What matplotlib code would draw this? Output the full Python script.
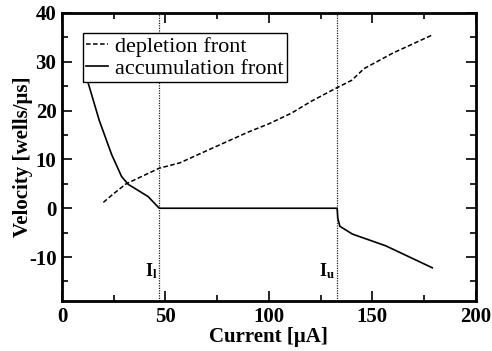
import matplotlib
matplotlib.use("Agg")
import matplotlib.pyplot as plt

plt.rcParams['font.family'] = ['Liberation Serif', 'DejaVu Serif']
plt.rcParams['mathtext.fontset'] = 'custom'
plt.rcParams['mathtext.rm'] = 'Liberation Serif'
plt.rcParams['mathtext.bf'] = 'Liberation Serif:bold'

# depletion front velocity vs current
depl_current = [20, 25, 31, 40, 47, 57, 70, 90, 100, 111, 120, 132, 140, 146, 160, 179]
depl_velocity = [1.2, 3.0, 5.0, 6.8, 8.2, 9.3, 11.8, 15.6, 17.3, 19.5, 21.8, 24.5, 26.2, 28.6, 31.8, 35.5]

# accumulation front velocity vs current
accu_current = [11, 12.7, 18, 24, 28.8, 32, 41.6, 47, 133, 133.3, 134.3, 140.4, 156.5, 179]
accu_velocity = [27.8, 25.6, 18.0, 11.0, 6.5, 4.9, 2.4, 0.0, 0.0, -2.0, -3.7, -5.3, -7.7, -12.2]

I_lower = 47
I_upper = 133

fig = plt.figure(figsize=(4.92, 3.51), dpi=100)
ax = fig.add_axes([0.126, 0.1425, 0.841, 0.8205])

ax.axvline(I_lower, color='#222222', lw=0.9, ls=(0, (1, 1)), zorder=1)
ax.axvline(I_upper, color='#222222', lw=0.9, ls=(0, (1, 1)), zorder=1)

ax.plot(depl_current, depl_velocity, color='black', lw=1.1, dashes=(3, 1.6),
        label='depletion front')
ax.plot(accu_current, accu_velocity, color='black', lw=1.2,
        label='accumulation front')

ax.text(I_lower - 1.0, -14.0, r'$\mathbf{I_l}$', ha='right', va='baseline', fontsize=13)
ax.text(I_upper - 1.0, -14.0, r'$\mathbf{I_u}$', ha='right', va='baseline', fontsize=13)

ax.set_xlim(0, 200)
ax.set_ylim(-19, 40)
ax.set_xticks([0, 50, 100, 150, 200])
ax.set_xticks([25, 75, 125, 175], minor=True)
ax.set_yticks([-10, 0, 10, 20, 30, 40])
ax.set_yticks([-15, -5, 5, 15, 25, 35], minor=True)
ax.set_yticklabels(['-10', '0', '10', '20', '30', '40'])

ax.tick_params(which='both', direction='in', top=True, right=True, width=1.2)
ax.tick_params(which='major', length=7, labelsize=15, pad=4)
ax.tick_params(which='minor', length=4)
for lab in ax.get_xticklabels() + ax.get_yticklabels():
    lab.set_fontweight('bold')
for sp in ax.spines.values():
    sp.set_linewidth(2)

ax.set_xlabel('Current [μA]', fontsize=15, fontweight='bold', labelpad=0)
ax.set_ylabel('Velocity [wells/μs]', fontsize=15, fontweight='bold', labelpad=-3)

leg = ax.legend(loc='upper left', bbox_to_anchor=(0.05, 0.93), fontsize=16,
                frameon=True, fancybox=False, edgecolor='black', framealpha=1,
                handlelength=1.0, handletextpad=0.3, borderpad=0.15,
                labelspacing=0.05, borderaxespad=0)
leg.get_frame().set_linewidth(1.0)
leg.set_zorder(5)

fig.savefig('out.png', dpi=100)
